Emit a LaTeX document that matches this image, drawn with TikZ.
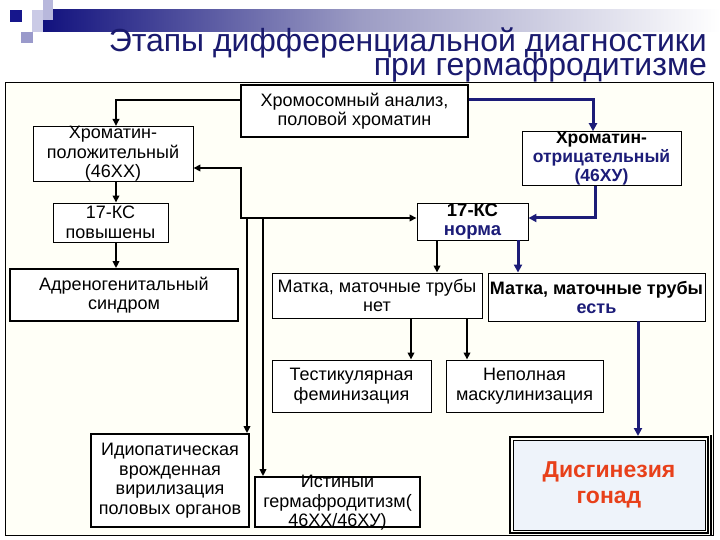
\documentclass[tikz,border=0pt]{standalone}
\usepackage{fontspec}
\setmainfont{Liberation Sans}
\usetikzlibrary{arrows.meta}
\definecolor{navy}{HTML}{1C1C78}
\definecolor{titlenavy}{HTML}{1A1A6E}
\definecolor{barnavy}{HTML}{12127E}
\definecolor{barmid}{HTML}{9C9CC4}
\definecolor{lavA}{HTML}{B8B8DC}
\definecolor{lavB}{HTML}{CACAE6}
\definecolor{lavC}{HTML}{9A9ACB}
\definecolor{dsqnavy}{HTML}{16168C}
\definecolor{redtext}{HTML}{E8401A}
\definecolor{fillblue}{HTML}{EEF3FA}
\definecolor{cream}{HTML}{FFFFF7}
\tikzset{
  box/.style={draw=black, line width=0.9pt, fill=white, inner sep=0pt, align=center,
    font=\fontsize{18}{19.5}\selectfont},
  thickbox/.style={box, line width=1.8pt},
  boldbox/.style={box, font=\fontsize{17.5}{19}\selectfont\bfseries},
  conn/.style={draw=black, line width=2pt, -{Triangle[length=7pt,width=6.5pt]}},
  nconn/.style={draw=navy, line width=3pt, -{Triangle[length=8pt,width=8pt]}},
  titlefont/.style={font=\fontsize{32}{34}\selectfont, text=titlenavy, inner sep=0pt}
}
\begin{document}
\begin{tikzpicture}[x=1pt,y=-1pt]
\useasboundingbox (0,0) rectangle (720,540);
% top decoration
\shade[left color=barnavy, right color=barmid] (43,10) rectangle (360,32);
\shade[left color=barmid, right color=white] (360,10) rectangle (720,32);
\fill[lavA] (43,0) rectangle (53,20);
\fill[lavB] (32,10) rectangle (43,32);
\fill[lavC] (21,32) rectangle (33,43);
\fill[dsqnavy] (10,10) rectangle (22,22);
% title
\node[titlefont, anchor=base east] (t1) at (707,52) {Этапы дифференциальной диагностики};
\node[titlefont, anchor=base east] (t2) at (707,76) {при гермафродитизме};
% frame
\draw[line width=0.8pt, fill=cream] (5,82) rectangle (713,535);

% boxes
\node[thickbox, minimum width=227, minimum height=52] (b1) at (354.5,111) {Хромосомный анализ,\\половой хроматин};
\node[box, minimum width=160, minimum height=52] (b2) at (113,154) {Хроматин-\\положительный\\(46ХХ)};
\node[boldbox, minimum width=159, minimum height=51] (b3) at (601.5,158.5) {Хроматин-\\\textcolor{navy}{отрицательный}\\\textcolor{navy}{(46ХУ)}};
\node[box, minimum width=115, minimum height=39] (b4) at (110.5,222.5) {17-КС\\повышены};
\node[thickbox, minimum width=228, minimum height=52] (b5) at (124,295) {Адреногенитальный\\синдром};
\node[boldbox, font=\fontsize{18.5}{19}\selectfont\bfseries, minimum width=111, minimum height=37] (b6) at (472.5,221.5) {17-КС\\\textcolor{navy}{норма}};
\node[box, minimum width=210, minimum height=45] (b7) at (377,295.5) {Матка, маточные трубы\\нет};
\node[boldbox, font=\fontsize{18}{19}\selectfont\bfseries, minimum width=217, minimum height=48] (b8) at (596.5,297) {Матка, маточные трубы\\\textcolor{navy}{есть}};
\node[box, minimum width=159, minimum height=52] (b9) at (351.5,386) {Тестикулярная\\феминизация};
\node[box, minimum width=157, minimum height=52] (b10) at (524.5,386) {Неполная\\маскулинизация};
\node[thickbox, minimum width=158, minimum height=93] (b11) at (170,480.5) {Идиопатическая\\врожденная\\вирилизация\\половых органов};
\node[thickbox, minimum width=165, minimum height=50] (b12) at (337.5,502) {};
\node[align=center, inner sep=0pt, font=\fontsize{18}{19.5}\selectfont] (b12t) at (337.5,503) {Истиныи\\гермафродитизм(\\46ХХ/46ХУ)};
\node[draw=black, line width=2pt, minimum width=198, minimum height=96, inner sep=0pt] (b13) at (609,485) {};
\draw[line width=0.8pt, fill=fillblue] ([xshift=4pt,yshift=-4pt]b13.north west) rectangle ([xshift=-4pt,yshift=4pt]b13.south east);
\draw[line width=2pt] ([xshift=1.5pt,yshift=1pt]b13.north east) -- ([xshift=1.5pt,yshift=-1pt]b13.south east);
\node[align=center, inner sep=0pt, text=redtext, font=\fontsize{23}{26}\selectfont\bfseries] (b13t) at (609,485) {Дисгинезия\\гонад};

% coordinates
\coordinate (ja) at (116,100);
\coordinate (jb) at (593,100);
\coordinate (j1) at (241,168);
\coordinate (j2) at (241,218);
\coordinate (j3) at (247,218);
\coordinate (j4) at (263,218);
\coordinate (j5) at (595,218);
\coordinate (xa) at (437,0);
\coordinate (xb) at (518,0);
\coordinate (xc) at (411,0);
\coordinate (xd) at (467,0);
\coordinate (xe) at (638,0);

% connectors
\draw[conn] (b1.west |- ja) -- (ja) -- (ja |- b2.north);
\draw[nconn] (b1.east |- jb) -- (jb) -- (jb |- b3.north);
\draw[conn] (ja |- b2.south) -- (ja |- b4.north);
\draw[conn] (ja |- b4.south) -- (ja |- b5.north);
\draw[conn, {Triangle[length=7pt,width=6.5pt]}-{Triangle[length=7pt,width=6.5pt]}] (b2.east |- j1) -- (j1) -- (j2) -- (j2 -| b6.west);
\draw[conn, line width=2.6pt] (j3) -- (j3 |- b11.north);
\draw[conn, line width=2.3pt] (j4) -- (j4 |- b12.north);
\draw[nconn] (j5 |- b3.south) -- (j5) -- (j5 -| b6.east);
\draw[conn] (xa |- b6.south) -- (xa |- b7.north);
\draw[nconn] (xb |- b6.south) -- (xb |- b8.north);
\draw[conn] (xc |- b7.south) -- (xc |- b9.north);
\draw[conn] (xd |- b7.south) -- (xd |- b10.north);
\draw[nconn] (xe |- b8.south) -- (xe |- b13.north);
\end{tikzpicture}
\end{document}
